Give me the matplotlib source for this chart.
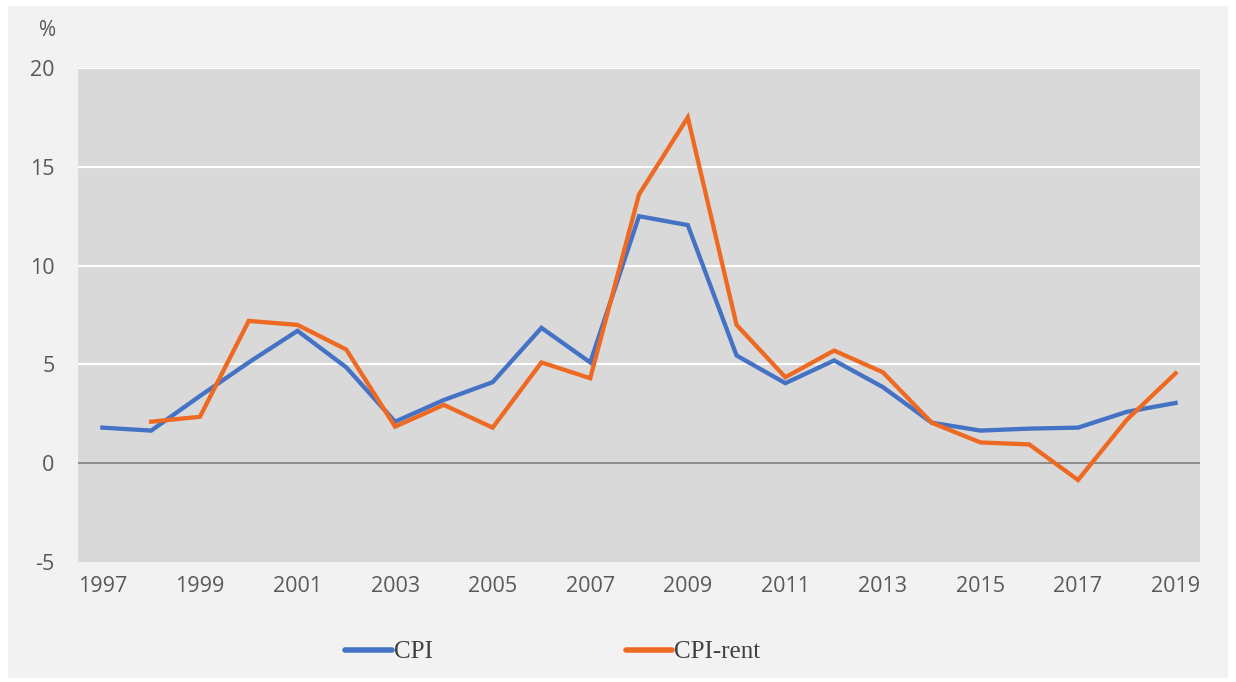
import matplotlib.pyplot as plt
from matplotlib.patches import Rectangle

plt.rcParams["axes.unicode_minus"] = False

# Data (annual % change)
years = list(range(1997, 2020))
cpi = [1.8, 1.65, 3.4, 5.1, 6.7, 4.85, 2.1, 3.2, 4.1, 6.85, 5.1, 12.5,
       12.05, 5.45, 4.05, 5.2, 3.85, 2.05, 1.65, 1.75, 1.8, 2.6, 3.05]
rent_years = list(range(1998, 2020))
cpi_rent = [2.1, 2.35, 7.2, 7.0, 5.75, 1.85, 2.95, 1.8, 5.1, 4.3, 13.6,
            17.5, 7.0, 4.35, 5.7, 4.6, 2.05, 1.05, 0.95, -0.85, 2.2, 4.55]
tick_years = list(range(1997, 2020, 2))

BLUE = "#4472C4"
ORANGE = "#EE6A22"
GREY_TXT = "#595959"

fig = plt.figure(figsize=(12.36, 6.82), dpi=100)
fig.patch.set_facecolor("white")
# light grey chart panel behind everything
fig.patches.append(Rectangle((8/1236, 4/682), 1220/1236, 672/682,
                             transform=fig.transFigure, facecolor="#f2f2f2",
                             edgecolor="none", zorder=-1))

ax = fig.add_axes([78/1236, 1-562/682, 1122/1236, 494/682])
ax.set_zorder(2)
ax.set_facecolor("#d9d9d9")

ax.plot(years, cpi, color=BLUE, lw=3.1, label="CPI", solid_joinstyle="miter", zorder=3)
ax.plot(rent_years, cpi_rent, color=ORANGE, lw=3.1, label="CPI-rent", solid_joinstyle="miter", zorder=4)

ax.set_xlim(1996.5, 2019.5)
ax.set_ylim(-5, 20)
ax.set_yticks([-5, 0, 5, 10, 15, 20])
ax.set_xticks(tick_years)
ax.set_xticklabels([str(y) for y in tick_years])

for v in [5, 10, 15, 20]:
    ax.axhline(v, color="white", lw=1.5, zorder=1)
ax.axhline(0, color="#7f7f7f", lw=1.2, zorder=2)

for s in ax.spines.values():
    s.set_visible(False)
ax.tick_params(length=0, labelsize=15.5, colors=GREY_TXT)
ax.tick_params(axis="y", pad=17)
ax.tick_params(axis="x", pad=10)
for lab in ax.get_xticklabels() + ax.get_yticklabels():
    lab.set_fontfamily("Open Sans")

fig.text(48/1236, 1-30/682, "%", fontsize=15, color=GREY_TXT,
         family="Open Sans", ha="center", va="center")

leg = fig.legend(loc="center left", bbox_to_anchor=(323/1236, 1-652/682),
                 ncol=2, frameon=False, handlelength=1.85, handletextpad=0.1,
                 columnspacing=7.7, prop={"family": "Liberation Serif", "size": 18})
leg.set_zorder(3)
for line in leg.get_lines():
    line.set_linewidth(4)
    line.set_solid_capstyle("round")
for t in leg.get_texts():
    t.set_color("#404040")

fig.savefig("out.png", dpi=100, facecolor=fig.get_facecolor())
